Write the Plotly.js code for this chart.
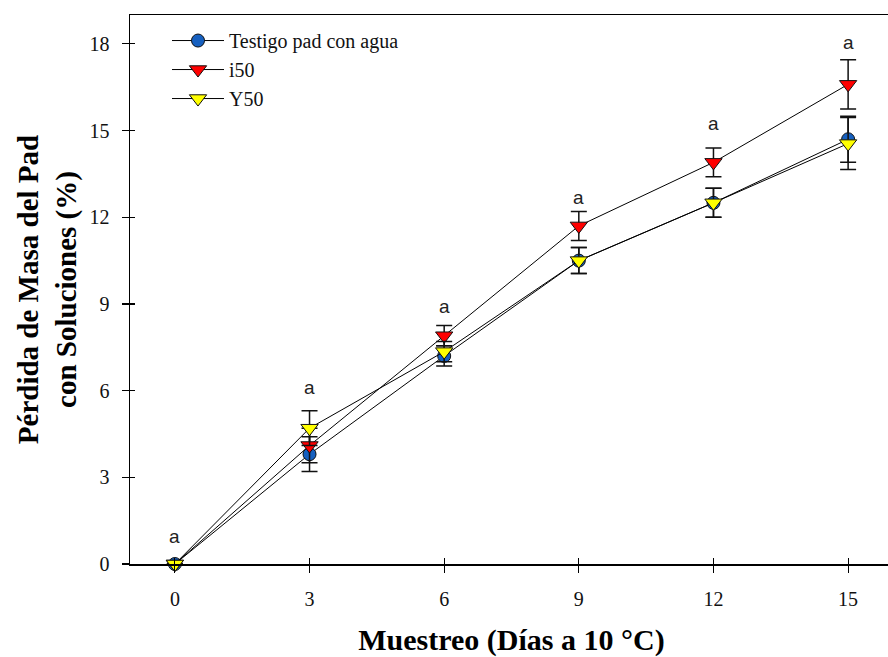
<!DOCTYPE html>
<html>
<head>
<meta charset="utf-8">
<script src="https://cdn.plot.ly/plotly-3.0.1.min.js"></script>
<style>
html,body{margin:0;padding:0;overflow:hidden;background:#fff;}
#chart{width:900px;height:657px;}
</style>
</head>
<body>
<div id="chart"></div>
<script>
// Days of sampling
const dias = [0, 3, 6, 9, 12, 15];

// Series values (% mass loss) and error bars
const testigo = [0, 3.8, 7.2, 10.5, 12.5, 14.7];
const testigoErr = [0, 0.6, 0.35, 0.45, 0.5, 0.8];
const i50 = [0, 4.1, 7.9, 11.7, 13.9, 16.6];
const i50Err = [0, 0.6, 0.35, 0.5, 0.5, 0.85];
const y50 = [0, 4.7, 7.35, 10.5, 12.5, 14.55];
const y50Err = [0, 0.6, 0.35, 0.45, 0.5, 0.9];

// Significance letters and their heights
const letras = ['a', 'a', 'a', 'a', 'a', 'a'];
const letraY = [0.95, 6.1, 8.9, 12.7, 15.25, 18.05];

const serifFont = 'Liberation Serif, Times New Roman, serif';

function serie(name, yv, err, symbol, color, size) {
  return {
    x: dias, y: yv, name: name, type: 'scatter', mode: 'lines+markers',
    cliponaxis: false,
    line: {color: '#000', width: 1},
    marker: {symbol: symbol, size: size, color: color, line: {color: '#111', width: 1}},
    error_y: {type: 'data', array: err, visible: true, color: '#111', thickness: 1.5, width: 8}
  };
}

const traces = [
  serie('Testigo pad con agua', testigo, testigoErr, 'circle', '#1660c0', 13),
  serie('i50', i50, i50Err, 'triangle-down', '#ff0000', 15),
  serie('Y50', y50, y50Err, 'triangle-down', '#ffff00', 15),
  {x: [dias[0]], y: [0], xaxis: 'x2', yaxis: 'y2', mode: 'markers', showlegend: false,
   hoverinfo: 'skip', marker: {opacity: 0}}
];

const annotations = dias.map((d, i) => ({
  x: d, y: letraY[i], text: letras[i], showarrow: false, xref: 'x', yref: 'y',
  font: {family: 'Liberation Sans, Arial, sans-serif', size: 19, color: '#222'},
  yanchor: 'middle'
}));

const tickVals = [0, 3, 6, 9, 12, 15, 18];

const layout = {
  width: 900, height: 657,
  margin: {l: 130, r: 7, t: 15, b: 93},
  paper_bgcolor: '#fff', plot_bgcolor: '#fff',
  showlegend: true,
  legend: {
    x: 0.0485, y: 0.989, xanchor: 'left', yanchor: 'top',
    bgcolor: 'rgba(0,0,0,0)', borderwidth: 0,
    font: {family: serifFont, size: 20, color: '#111'},
    itemwidth: 52, tracegroupgap: 0
  },
  xaxis: {
    range: [-1, 16], tickvals: dias, ticktext: dias.map(String),
    showgrid: false, zeroline: false, showline: true, linecolor: '#000', linewidth: 1.5,
    mirror: true, ticks: 'outside', ticklen: 7, tickwidth: 1.2, tickcolor: '#000',
    ticklabelstandoff: 9,
    tickfont: {family: serifFont, size: 20, color: '#111'},
    title: {text: 'Muestreo (Días a 10 °C)', font: {family: serifFont, size: 30, color: '#000', weight: 'bold'}, standoff: 22},
    automargin: false
  },
  xaxis2: {
    range: [-1, 16], overlaying: 'x', anchor: 'y', side: 'bottom', tickvals: dias,
    showticklabels: false, showgrid: false, zeroline: false, showline: false,
    ticks: 'inside', ticklen: 6, tickwidth: 1.2, tickcolor: '#000'
  },
  yaxis: {
    range: [0, 19], tickvals: tickVals, ticktext: tickVals.map(String),
    showgrid: false, zeroline: false, showline: true, linecolor: '#000', linewidth: 1.5,
    mirror: true, ticks: 'outside', ticklen: 7, tickwidth: 1.2, tickcolor: '#000',
    ticklabelstandoff: 8,
    tickfont: {family: serifFont, size: 20, color: '#111'},
    title: {text: 'Pérdida de Masa del Pad<br>con Soluciones (%)', font: {family: serifFont, size: 29, color: '#000', weight: 'bold'}, standoff: 4},
    automargin: false
  },
  yaxis2: {
    range: [0, 19], overlaying: 'y', anchor: 'x', side: 'left', tickvals: tickVals,
    showticklabels: false, showgrid: false, zeroline: false, showline: false,
    mirror: 'ticks', ticks: 'inside', ticklen: 5, tickwidth: 1.2, tickcolor: '#000'
  },
  annotations: annotations
};

Plotly.newPlot('chart', traces, layout, {displayModeBar: false, staticPlot: true});
</script>
</body>
</html>
